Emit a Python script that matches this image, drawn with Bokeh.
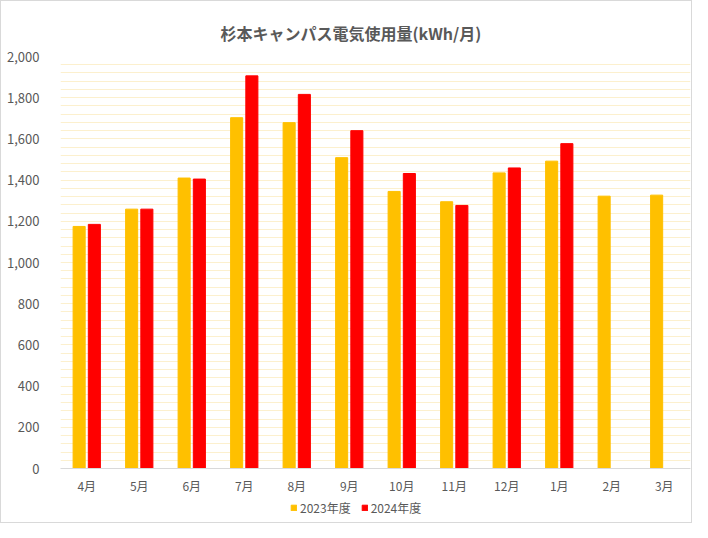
from bokeh.plotting import figure
from bokeh.layouts import column
from bokeh.models import (ColumnDataSource, FactorRange, Range1d, SingleIntervalTicker,
                          NumeralTickFormatter, Legend, LegendItem)
from bokeh.transform import dodge
from bokeh.embed import file_html
from bokeh.resources import INLINE

months = ["4月", "5月", "6月", "7月", "8月", "9月", "10月", "11月", "12月", "1月", "2月", "3月"]
fy2023 = [1175, 1259, 1410, 1703, 1679, 1509, 1345, 1295, 1435, 1492, 1322, 1327]
fy2024 = [1185, 1259, 1405, 1906, 1816, 1640, 1432, 1277, 1459, 1577, float("nan"), float("nan")]
series_names = ["2023年度", "2024年度"]
series_colors = ["#FFC000", "#FF0000"]
title_text = "杉本キャンパス電気使用量(kWh/月)"

FONT = "Noto Sans CJK JP"
GRAY = "#595959"

src = ColumnDataSource(dict(month=months, fy2023=fy2023, fy2024=fy2024))

p = figure(x_range=FactorRange(*months), y_range=Range1d(0, 2000),
           width=690, height=495, output_backend="svg", toolbar_location=None,
           min_border_left=59, min_border_right=1, min_border_top=55, min_border_bottom=27)
p.outline_line_color = None
p.background_fill_color = "white"
p.border_fill_color = "white"

p.title.text = title_text
p.title.align = "left"
p.title.offset = 160
p.title.text_font = FONT
p.title.text_font_size = "16px"
p.title.text_font_style = "bold"
p.title.text_color = GRAY
p.title.standoff = 23

r1 = p.vbar(x=dodge("month", -0.145, range=p.x_range), top="fy2023", width=0.23,
            source=src, fill_color=series_colors[0], line_color=series_colors[0])
r2 = p.vbar(x=dodge("month", 0.145, range=p.x_range), top="fy2024", width=0.23,
            source=src, fill_color=series_colors[1], line_color=series_colors[1])

p.xgrid.grid_line_color = None
p.ygrid.ticker = SingleIntervalTicker(interval=40)
p.ygrid.grid_line_color = "#FCF0CE"
p.ygrid.grid_line_width = 1

p.yaxis.ticker = SingleIntervalTicker(interval=200)
p.yaxis.formatter = NumeralTickFormatter(format="0,0")
p.yaxis.axis_line_color = None
p.yaxis.major_tick_line_color = None
p.yaxis.minor_tick_line_color = None
p.yaxis.major_tick_out = 0
p.yaxis.major_tick_in = 0
p.yaxis.major_label_standoff = 17
p.yaxis.major_label_text_font = FONT
p.yaxis.major_label_text_font_size = "13px"
p.yaxis.major_label_text_color = GRAY

p.xaxis.axis_line_color = "#D9D9D9"
p.xaxis.axis_line_width = 1
p.xaxis.major_tick_line_color = None
p.xaxis.major_tick_out = 0
p.xaxis.major_tick_in = 0
p.xaxis.major_label_standoff = 8
p.xaxis.major_label_text_font = FONT
p.xaxis.major_label_text_font_size = "12px"
p.xaxis.major_label_text_color = GRAY

# legend strip below the chart (hidden proxy renderers supply the legend swatches)
lg = figure(width=690, height=26, x_range=Range1d(0, 1), y_range=Range1d(0, 1),
            output_backend="svg", toolbar_location=None,
            min_border_left=0, min_border_right=0, min_border_top=0, min_border_bottom=0)
lg.axis.visible = False
lg.grid.visible = False
lg.outline_line_color = None
lg.background_fill_color = "white"
lg.border_fill_color = "white"
d1 = lg.vbar(x="fy2023", top="fy2023", width=1, source=src,
             fill_color=series_colors[0], line_color=series_colors[0], visible=False)
d2 = lg.vbar(x="fy2024", top="fy2024", width=1, source=src,
             fill_color=series_colors[1], line_color=series_colors[1], visible=False)
legend = Legend(items=[LegendItem(label=series_names[0], renderers=[d1]),
                       LegendItem(label=series_names[1], renderers=[d2])],
                orientation="horizontal", location=(230, 6),
                label_text_font=FONT, label_text_font_size="12px", label_text_color=GRAY,
                glyph_width=7, glyph_height=7, label_standoff=3, spacing=10,
                label_height=14, inactive_fill_alpha=0,
                border_line_color=None, background_fill_alpha=0, padding=0, margin=0)
lg.add_layout(legend, "center")

layout = column(p, lg, spacing=0, styles={"border": "1px solid #D9D9D9"})

open("out.html", "w").write(file_html(layout, INLINE))
